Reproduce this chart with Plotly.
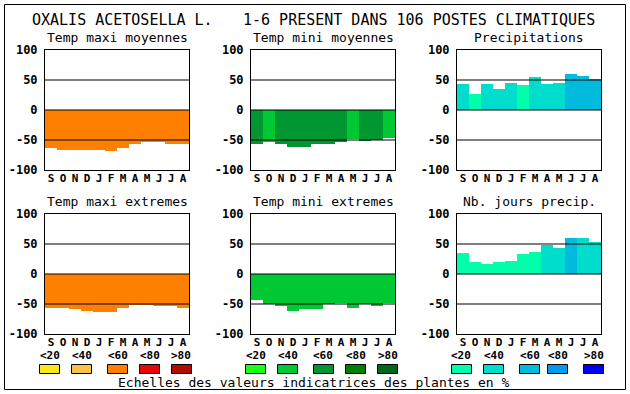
import plotly.graph_objects as go

# ---------------- data ----------------
months = ["S", "O", "N", "D", "J", "F", "M", "A", "M", "J", "J", "A"]
main_left = "OXALIS ACETOSELLA L."
main_right = "1-6 PRESENT DANS 106 POSTES CLIMATIQUES"
panel_titles = ["Temp maxi moyennes", "Temp mini moyennes", "Precipitations",
                "Temp maxi extremes", "Temp mini extremes", "Nb. jours precip."]

tmax_moy = [-63, -66, -66, -66, -66, -68, -64, -56, -53, -54, -56, -56]
tmin_moy = [-56, -54, -56, -61, -61, -57, -56, -54, -48, -52, -50, -46]
precip = [44, 27, 44, 35, 45, 42, 55, 44, 45, 60, 57, 52]
tmax_ext = [-56, -56, -58, -61, -64, -63, -56, -51, -51, -54, -54, -56]
tmin_ext = [-44, -50, -53, -61, -58, -58, -50, -48, -56, -50, -53, -48]
nb_jours = [35, 20, 17, 20, 22, 34, 37, 49, 44, 60, 60, 54]

# class index (0..4 -> <20, <40, <60, <80, >80) of each bar
cls_tmax_moy = [2] * 12
cls_tmin_moy = [2, 1, 2, 2, 2, 2, 2, 2, 1, 2, 2, 1]
cls_precip = [1, 0, 1, 1, 1, 0, 1, 1, 1, 2, 2, 2]
cls_tmax_ext = [2] * 12
cls_tmin_ext = [1] * 12
cls_nb_jours = [0, 0, 0, 0, 0, 0, 0, 1, 1, 2, 1, 1]

class_labels = ["&lt;20", "&lt;40", "&lt;60", "&lt;80", "&gt;80"]
orange_scale = ["#FFE61A", "#FFBF4D", "#FF8000", "#E60808", "#B00C00"]
green_scale = ["#1AFF1A", "#00C832", "#009632", "#007F00", "#00661A"]
blue_scale = ["#00FFAA", "#00DDCC", "#00BBDD", "#0099EE", "#0000FF"]
caption = "Echelles des valeurs indicatrices des plantes en %"

y_ticks = [-100, -50, 0, 50, 100]
ref_lines = [50, 0, -50]

# ---------------- layout helpers ----------------
W, H = 630, 394
col_left = [45, 251, 457]
row_top = [50, 214]
pw, ph = 144, 120

panels = [
    (tmax_moy, cls_tmax_moy, orange_scale),
    (tmin_moy, cls_tmin_moy, green_scale),
    (precip, cls_precip, blue_scale),
    (tmax_ext, cls_tmax_ext, orange_scale),
    (tmin_ext, cls_tmin_ext, green_scale),
    (nb_jours, cls_nb_jours, blue_scale),
]

MONO = "DejaVu Sans Mono"

fig = go.Figure()
shapes = []
annotations = []
layout_axes = {}

for k, (vals, cls, scale) in enumerate(panels):
    i = k + 1
    r, c = divmod(k, 3)
    xid = "x" if i == 1 else f"x{i}"
    yid = "y" if i == 1 else f"y{i}"
    xkey = "xaxis" if i == 1 else f"xaxis{i}"
    ykey = "yaxis" if i == 1 else f"yaxis{i}"
    x0 = col_left[c] / W
    x1 = (col_left[c] + pw) / W
    y1 = 1 - row_top[r] / H
    y0 = 1 - (row_top[r] + ph) / H

    fig.add_trace(go.Bar(
        x=list(range(12)), y=vals,
        marker=dict(color=[scale[v] for v in cls], line=dict(width=0)),
        width=1.0, xaxis=xid, yaxis=yid, showlegend=False, hoverinfo="skip",
    ))

    layout_axes[xkey] = dict(
        domain=[x0, x1], anchor=yid, range=[-0.5, 11.5],
        tickvals=list(range(12)), ticktext=months, ticks="",
        tickfont=dict(family=MONO, size=11, color="black", weight="bold"),
        showgrid=False, zeroline=False, showline=True, mirror=True,
        linecolor="black", linewidth=1, fixedrange=True, automargin=False,
        ticklabelstandoff=-2,
    )
    layout_axes[ykey] = dict(
        domain=[y0, y1], anchor=xid, range=[-100, 100],
        tickvals=y_ticks, ticktext=[str(v) for v in y_ticks], ticks="",
        tickfont=dict(family=MONO, size=12, color="black", weight="bold"),
        showgrid=False, zeroline=False, showline=True, mirror=True,
        linecolor="black", linewidth=1, fixedrange=True, automargin=False,
        ticklabelstandoff=4,
    )
    for yv in ref_lines:
        shapes.append(dict(type="line", xref=f"{xid} domain", yref=yid,
                           x0=0, x1=1, y0=yv, y1=yv, layer="above",
                           line=dict(color="black", width=1)))
    annotations.append(dict(
        text=panel_titles[k], xref="paper", yref="paper",
        x=(x0 + x1) / 2, y=1 - (row_top[r] - 12.5) / H,
        xanchor="center", yanchor="middle", showarrow=False,
        font=dict(family=MONO, size=13, color="black"),
    ))

# outer frame
shapes.append(dict(type="rect", xref="paper", yref="paper",
                   x0=4.5 / W, x1=625.5 / W, y0=1 - 389.5 / H, y1=1 - 4.5 / H,
                   line=dict(color="black", width=1), fillcolor="rgba(0,0,0,0)"))

# main title
annotations.append(dict(text=main_left, xref="paper", yref="paper",
                        x=30 / W, y=1 - 19.5 / H, xanchor="left", yanchor="middle",
                        showarrow=False, font=dict(family=MONO, size=15, color="black")))
annotations.append(dict(text=main_right, xref="paper", yref="paper",
                        x=597 / W, y=1 - 19.5 / H, xanchor="right", yanchor="middle",
                        showarrow=False, font=dict(family=MONO, size=15, color="black")))

# colour scale legend
swatch_left = [
    [39, 71, 107, 139, 171],
    [245, 277, 313, 345, 377],
    [451, 483, 519, 547, 583],
]
for scale, lefts in zip([orange_scale, green_scale, blue_scale], swatch_left):
    for j, (col, xl) in enumerate(zip(scale, lefts)):
        shapes.append(dict(type="rect", xref="paper", yref="paper",
                           x0=(xl + 0.5) / W, x1=(xl + 20.5) / W,
                           y0=1 - 373.5 / H, y1=1 - 364.5 / H,
                           fillcolor=col, line=dict(color="black", width=1)))
        annotations.append(dict(text=class_labels[j], xref="paper", yref="paper",
                                x=(xl + 10.5) / W, y=1 - 355 / H,
                                xanchor="center", yanchor="middle", showarrow=False,
                                font=dict(family=MONO, size=11, color="black", weight="bold")))

annotations.append(dict(text=caption, xref="paper", yref="paper",
                        x=314 / W, y=1 - 382 / H, xanchor="center", yanchor="middle",
                        showarrow=False, font=dict(family=MONO, size=13, color="black")))

fig.update_layout(
    width=W, height=H,
    margin=dict(l=0, r=0, t=0, b=0, pad=0, autoexpand=False),
    paper_bgcolor="white", plot_bgcolor="white",
    bargap=0, showlegend=False,
    shapes=shapes, annotations=annotations,
    **layout_axes,
)

fig.write_html("out.html", config={"displayModeBar": False, "responsive": False},
               post_script=("document.documentElement.style.margin='0';"
                            "document.documentElement.style.overflow='hidden';"
                            "document.body.style.margin='0';"
                            "document.body.style.overflow='hidden';"))
